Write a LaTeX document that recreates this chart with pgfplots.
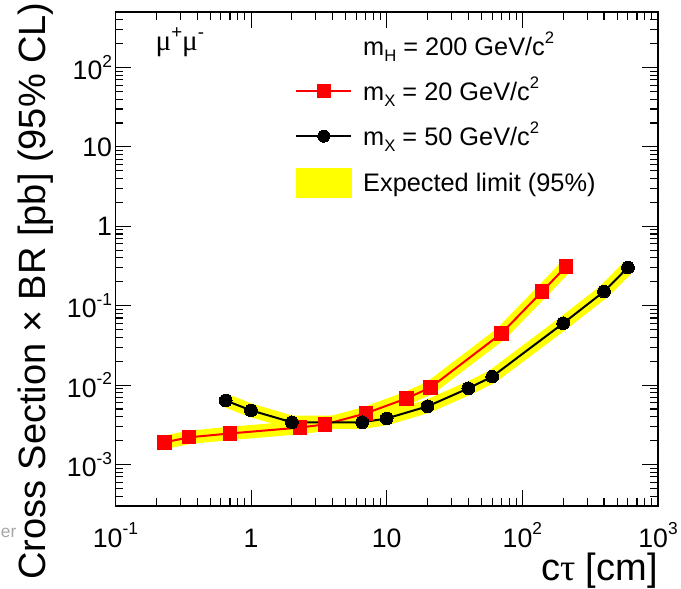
\documentclass[border=0pt]{standalone}
\usepackage{fontspec}
\setmainfont{Liberation Sans}
\newfontfamily\sym{Liberation Serif}
\usepackage{pgfplots}
\pgfplotsset{compat=1.18}

\definecolor{rootred}{RGB}{255,0,0}
\definecolor{rootyel}{RGB}{255,255,0}
% ROOT-like large super/subscripts
\newcommand{\tsup}[1]{\raisebox{9.5pt}{\fontsize{13}{13}\selectfont #1}}
\newcommand{\lsup}[1]{\raisebox{8.8pt}{\fontsize{12.5}{12.5}\selectfont #1}}
\newcommand{\lsub}[1]{\raisebox{-5pt}{\fontsize{12.5}{12.5}\selectfont #1}}
\newcommand{\msup}[1]{\raisebox{9pt}{\fontsize{14}{14}\selectfont #1}}

\begin{document}
\begin{tikzpicture}
\begin{axis}[
  scale only axis, width=406.95pt, height=370.5pt,
  xmode=log, ymode=log, xmin=0.1, xmax=1000, ymin=3e-4, ymax=500,
  clip=false,
  xtick={0.1,1,10,100,1000},
  xticklabels={10\tsup{-1},1,10,10\tsup{2},10\tsup{3}},
  minor xtick={0.2,0.3,0.4,0.5,0.6,0.7,0.8,0.9,2,3,4,5,6,7,8,9,20,30,40,50,60,70,80,90,200,300,400,500,600,700,800,900},
  ytick={1e-3,1e-2,1e-1,1,10,100},
  yticklabels={10\tsup{-3},10\tsup{-2},10\tsup{-1},1,10,10\tsup{2}},
  minor ytick={4e-4,5e-4,6e-4,7e-4,8e-4,9e-4,2e-3,3e-3,4e-3,5e-3,6e-3,7e-3,8e-3,9e-3,0.02,0.03,0.04,0.05,0.06,0.07,0.08,0.09,0.2,0.3,0.4,0.5,0.6,0.7,0.8,0.9,2,3,4,5,6,7,8,9,20,30,40,50,60,70,80,90,200,300,400},
  tick align=inside, major tick length=12pt, minor tick length=6pt,
  axis line style={line width=1pt},
  every tick/.style={black, line width=0.8pt},
  tick label style={font=\fontsize{20}{22}\selectfont},
  xticklabel style={anchor=base, yshift=-31pt},
  yticklabel style={anchor=east, xshift=1pt},
  xlabel={c{\sym τ} [cm]},
  xlabel style={at={(axis description cs:1,-0.1498)}, anchor=base east, inner sep=0pt, font=\fontsize{28.5}{30}\selectfont},
  ylabel={Cross Section × BR [pb] (95\% CL)},
  ylabel style={at={(axis description cs:-0.1297,1.0202)}, anchor=base east, inner sep=0pt, font=\fontsize{28.5}{30}\selectfont},
  legend style={at={(axis description cs:0.331,0.959)}, anchor=north west, draw=none, fill=none,
    inner sep=0pt, font=\fontsize{19}{21}\selectfont, row sep=13.25pt, column sep=8.25pt,
    nodes={inner sep=0pt, text height=17pt, text depth=3.5pt}},
  legend cell align=left,
  legend image code/.code={\draw[mark repeat=2, mark phase=2, #1] plot coordinates {(0pt,0pt) (20.6pt,0pt) (41.2pt,0pt)};},
]
% expected-limit bands
\addplot[rootyel, line width=10pt, line join=round, forget plot] coordinates {
  (0.23,1.9e-3) (0.35,2.2e-3) (0.7,2.46e-3) (2.3,2.92e-3) (3.5,3.2e-3) (7,4.4e-3)
  (14,6.8e-3) (21,9.3e-3) (70,0.0447) (140,0.151) (210,0.312)};
\addplot[rootyel, line width=10pt, line join=round, forget plot] coordinates {
  (0.65,6.4e-3) (1,4.8e-3) (2,3.4e-3) (6.6,3.4e-3) (10,3.8e-3) (20,5.4e-3)
  (40,9.1e-3) (60,0.0128) (200,0.060) (400,0.151) (600,0.303)};
% observed limits
\addplot[rootred, line width=1.5pt, mark=square*, mark size=5pt, mark options={solid, fill=rootred, draw=rootred, line width=0pt}, forget plot] coordinates {
  (0.23,1.9e-3) (0.35,2.2e-3) (0.7,2.46e-3) (2.3,2.92e-3) (3.5,3.2e-3) (7,4.4e-3)
  (14,6.8e-3) (21,9.3e-3) (70,0.0447) (140,0.151) (210,0.312)};
\addplot[black, line width=1.5pt, mark=*, mark size=4.8pt, mark options={solid, fill=black, line width=0pt}, forget plot] coordinates {
  (0.65,6.4e-3) (1,4.8e-3) (2,3.4e-3) (6.6,3.4e-3) (10,3.8e-3) (20,5.4e-3)
  (40,9.1e-3) (60,0.0128) (200,0.060) (400,0.151) (600,0.303)};

\addlegendimage{empty legend}
\addlegendentry{m\lsub{H} = 200 GeV/c\lsup{2}}
\addlegendimage{rootred, line width=1.5pt, mark=square*, mark size=5pt, mark options={fill=rootred, draw=rootred, line width=0pt}}
\addlegendentry{m\lsub{X} = 20 GeV/c\lsup{2}}
\addlegendimage{black, line width=1.5pt, mark=*, mark size=4.5pt, mark options={fill=black, line width=0pt}}
\addlegendentry{m\lsub{X} = 50 GeV/c\lsup{2}}
\addlegendimage{legend image code/.code={\fill[rootyel] (0pt,-10.9pt) rectangle (41.2pt,10.9pt);}}
\addlegendentry{Expected limit (95\%)}

\node[anchor=base west, font=\fontsize{22}{24}\selectfont, inner sep=0pt] at (axis description cs:0.0735,0.923) {{\sym μ}\msup{+}{\sym μ}\msup{-}};
\node[anchor=base west, font=\fontsize{13}{13}\selectfont, text=gray!70, inner sep=0pt] at (axis description cs:-0.2115,-0.0628) {er};
\end{axis}
\pgfresetboundingbox
\path[use as bounding box] ([xshift=-86.55pt,yshift=-61.5pt]current axis.south west) rectangle ([xshift=17.25pt,yshift=9pt]current axis.north east);
\end{tikzpicture}
\end{document}
